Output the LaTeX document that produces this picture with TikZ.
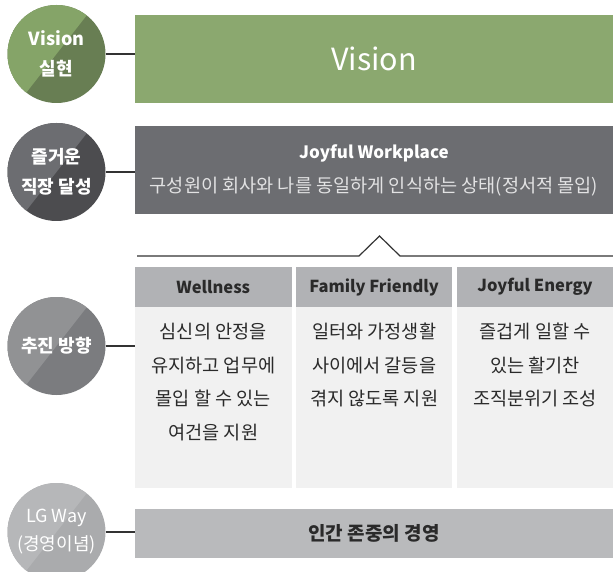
\documentclass[tikz,border=0pt]{standalone}
\usepackage{fontspec}
\setmainfont{Noto Sans CJK KR}
\usepackage{tikz}
\usetikzlibrary{positioning}
\definecolor{visgreen}{HTML}{8BA86F}
\definecolor{joygrey}{HTML}{6C6D71}
\definecolor{headgrey}{HTML}{B1B2B5}
\definecolor{cellgrey}{HTML}{F1F1F1}
\definecolor{basegrey}{HTML}{B9BABC}
\definecolor{subgrey}{HTML}{E2E2E3}
\definecolor{inkgrey}{HTML}{2A2A2A}
\definecolor{linegrey}{HTML}{333333}

\begin{document}
\begin{tikzpicture}[x=1pt, y=-1pt,
      disc/.style 2 args={circle, minimum size=98pt, inner sep=0pt, fill=#2, text=white, align=center,
        font=\bfseries\fontsize{18}{30}\selectfont,
        path picture={\fill [#1] (path picture bounding box.center) ++(52:80pt) -- ++(142:100pt) -- ++(232:160pt) -- ++(-38:100pt) -- cycle;}},
      visionbox/.style={rectangle, fill=visgreen, text=white, minimum width=478pt, minimum height=88pt, font=\fontsize{30.5}{34}\selectfont},
      joybox/.style={rectangle, fill=joygrey, text=white, align=center, minimum width=478pt, minimum height=88pt, font=\fontsize{18.6}{24}\selectfont},
      head/.style={rectangle, fill=headgrey, text=inkgrey, minimum width=156.5pt, minimum height=40pt, inner sep=0pt, font=\bfseries\fontsize{16.5}{20}\selectfont},
      cell/.style={rectangle, fill=cellgrey, text=inkgrey, inner sep=0pt, font=\fontsize{18.6}{33.5}\selectfont},
      base/.style={rectangle, fill=basegrey, text=inkgrey, minimum width=478pt, minimum height=49pt, font=\bfseries\fontsize{19}{22}\selectfont},
      link/.style={draw=linegrey, line width=1.2pt},
      node distance=10mm
    ]
    \useasboundingbox (0,0) rectangle (613,572);

    \node [visionbox] (vision) at (374,59) {Vision} ;
    \node [joybox] (joy) at (374,170) {{\bfseries\fontsize{17}{24}\selectfont Joyful Workplace}\\[10pt]{\color{subgrey}구성원이 회사와 나를 동일하게 인식하는 상태(정서적 몰입)}} ;

    \node [head] (wel) at (213.25,287) {Wellness} ;
    \node [head] (fam) [right=4pt of wel] {Family Friendly} ;
    \node [head] (ene) [right=4pt of fam] {Joyful Energy} ;
    \node [cell] (welbody) [below=0pt of wel] {\parbox[c][181pt][t]{156.5pt}{\vspace*{16pt}\centering 심신의 안정을\\유지하고 업무에\\몰입 할 수 있는\\여건을 지원}} ;
    \node [cell] (fambody) [below=0pt of fam] {\parbox[c][181pt][t]{156.5pt}{\vspace*{16pt}\centering 일터와 가정생활\\사이에서 갈등을\\겪지 않도록 지원}} ;
    \node [cell] (enebody) [below=0pt of ene] {\parbox[c][181pt][t]{156.5pt}{\vspace*{16pt}\centering 즐겁게 일할 수\\있는 활기찬\\조직분위기 조성}} ;

    \node [base] (way) at (374,533.5) {인간 존중의 경영} ;

    \node [disc={visgreen!105!white}{visgreen!75!black}] (c1) at (56.5,54) {Vision\\실현} ;
    \node [disc={joygrey}{joygrey!70!black}] (c2) at (56.5,172) {즐거운\\직장 달성} ;
    \node [disc={joygrey!75!white}{joygrey!90!white}] (c3) at (56.5,346) {추진 방향} ;
    \node [disc={basegrey!105!white}{basegrey!92!black}, font=\fontsize{18}{28}\selectfont] (c4) at (56.5,532) {LG Way\\(경영이념)} ;

    \draw [link] (c1.east) -- (c1.east -| vision.west) ;
    \draw [link] (c2.east) -- (c2.east -| joy.west) ;
    \draw [link] (c3.east) -- (c3.east -| welbody.west) ;
    \draw [link] (c4.east) -- (c4.east -| way.west) ;
    \draw [link] (137,256) -- (359,256) -- (379.5,236) -- (400,256) -- (613,256) ;
  \end{tikzpicture}
\end{document}
